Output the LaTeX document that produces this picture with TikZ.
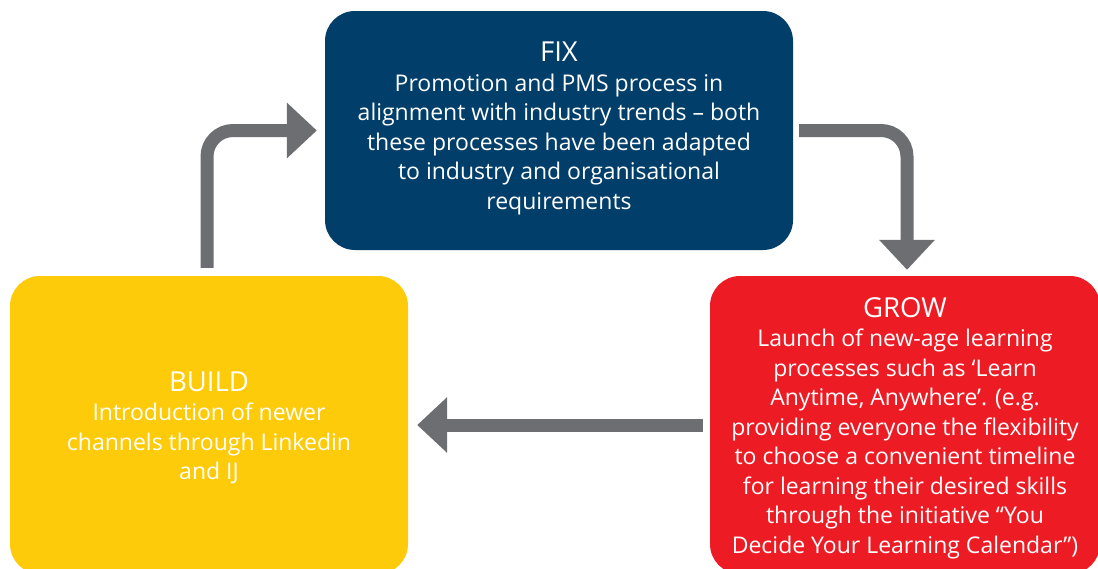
\documentclass[tikz,border=0pt]{standalone}
\usepackage{fontspec}
\setmainfont{Open Sans}
\usetikzlibrary{arrows.meta}
\definecolor{fixblue}{HTML}{013F6A}
\definecolor{growred}{HTML}{ED1C24}
\definecolor{buildyel}{HTML}{FECB0A}
\definecolor{arrgray}{HTML}{6D6E71}
\newcommand{\ttlsize}{\fontsize{27.5}{29.5}\selectfont}
\tikzset{
  box/.style={rounded corners=30pt, inner sep=0pt},
  txt/.style={inner sep=0pt, text=white, align=center,
    font=\fontsize{23}{29.5}\selectfont},
  flow/.style={draw=arrgray, line width=13pt, rounded corners=26pt,
    -{Triangle[length=30pt,width=54pt]}}
}
\begin{document}
\begin{tikzpicture}[x=1pt,y=-1pt]
\useasboundingbox (0,0) rectangle (1098,568);
\node[box, fill=fixblue, minimum width=468pt, minimum height=239pt] (fix) at (559,130.5) {};
\node[box, fill=growred, minimum width=390pt, minimum height=298pt] (grow) at (905,425) {};
\node[box, fill=buildyel, minimum width=398pt, minimum height=298pt] (build) at (209,425) {};
\node[txt] (fixtxt) at ([yshift=2pt]fix.center)
  {{\ttlsize FIX}\\
   Promotion and PMS process in\\
   alignment with industry trends – both\\
   these processes have been adapted\\
   to industry and organisational\\
   requirements};
\node[txt] (growtxt) at ([yshift=-3pt]grow.center)
  {{\ttlsize GROW}\\
   Launch of new-age learning\\
   processes such as ‘Learn\\
   Anytime, Anywhere’. (e.g.\\
   providing everyone the flexibility\\
   to choose a convenient timeline\\
   for learning their desired skills\\
   through the initiative “You\\
   Decide Your Learning Calendar”)};
\node[txt] (buildtxt) at ([yshift=-3pt]build.center)
  {{\ttlsize BUILD}\\
   Introduction of newer\\
   channels through Linkedin\\
   and IJ};
\draw[flow] ([xshift=-2pt,yshift=8pt]build.north) |- ([xshift=-8pt]fix.west);
\draw[flow] ([xshift=6pt]fix.east) -| ([xshift=2pt,yshift=6pt]grow.north);
\draw[flow] ([xshift=-7pt]grow.west) -- ([xshift=9pt]build.east);
\end{tikzpicture}
\end{document}
